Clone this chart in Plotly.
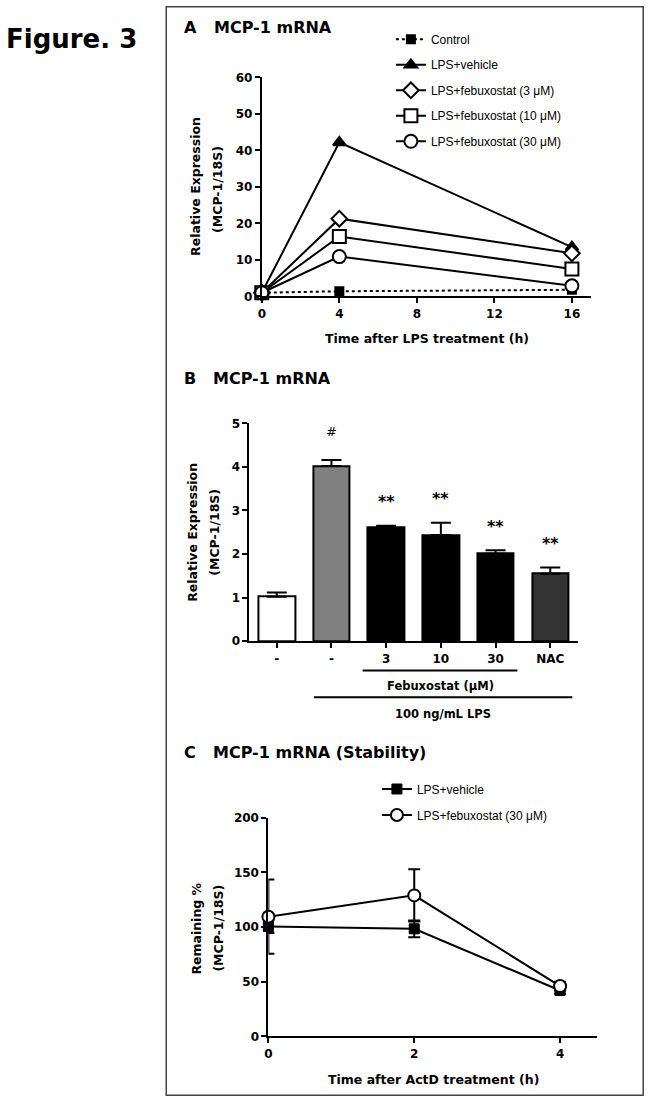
import plotly.graph_objects as go

W, H = 651, 1102

# ---------------- Data ----------------
# Panel A: MCP-1 mRNA time course
time_a = [0, 4, 16]
a_control = [1.0, 1.4, 1.8]
a_vehicle = [1.0, 42.2, 13.5]
a_feb3 = [1.0, 21.3, 11.8]
a_feb10 = [1.0, 16.4, 7.5]
a_feb30 = [1.0, 10.9, 2.9]
a_ticks = [0, 4, 8, 12, 16]

# Panel B: bars
b_labels = ["-", "-", "3", "10", "30", "NAC"]
b_values = [1.02, 4.02, 2.62, 2.44, 2.01, 1.55]
b_errors = [0.10, 0.14, 0.03, 0.28, 0.08, 0.14]
b_colors = ["#ffffff", "#808080", "#000000", "#000000", "#000000", "#333333"]
b_marks = ["", "#", "**", "**", "**", "**"]

# Panel C: stability
time_c = [0, 2, 4]
c_vehicle = [100.5, 98.4, 42.0]
c_vehicle_err = [6.0, 7.6, 3.0]
c_feb30 = [109.5, 129.0, 46.0]
c_feb30_err = [34.0, 24.0, 4.0]

# page-to-screenshot correction (observed from a calibration run)
OX, SX = 2.5, 0.9954
OY, SY = 6.2, 0.9877


def px_x(p):
    return ((p - OX) / SX) / W


def px_y(p):
    return 1 - ((p - OY) / SY) / H


FONT = "DejaVu Sans"
fig = go.Figure()

# ---------------- Panel A ----------------
series_a = [
    ("Control", a_control, "square", 8, "black", "dot"),
    ("LPS+vehicle", a_vehicle, "triangle-up", 11, "black", "solid"),
    ("LPS+febuxostat (3 μM)", a_feb3, "diamond", 12, "white", "solid"),
    ("LPS+febuxostat (10 μM)", a_feb10, "square", 13, "white", "solid"),
    ("LPS+febuxostat (30 μM)", a_feb30, "circle", 13, "white", "solid"),
]
for i, (name, ys, sym, sz, fill, dash) in enumerate(series_a):
    fig.add_trace(go.Scatter(
        x=time_a, y=ys, name=name, mode="lines+markers",
        line=dict(color="black", width=2, dash=dash),
        marker=dict(symbol=sym, size=sz, color=fill, line=dict(color="black", width=2)),
        xaxis="x", yaxis="y", legend="legend", legendgroup=f"a{i}",
        cliponaxis=False,
    ))

# ---------------- Panel B ----------------
b_x = list(range(len(b_values)))
fig.add_trace(go.Bar(
    x=b_x, y=b_values, width=0.67,
    marker=dict(color=b_colors, line=dict(color="black", width=2)),
    error_y=dict(type="data", symmetric=False, array=b_errors,
                 arrayminus=[0] * len(b_errors), color="black", thickness=2, width=10),
    xaxis="x2", yaxis="y2", showlegend=False,
))
for xi, v, e, m in zip(b_x, b_values, b_errors, b_marks):
    if m:
        fig.add_annotation(x=xi, y=v + e, xref="x2", yref="y2", text=f"<b>{m}</b>" if m == "**" else m,
                           showarrow=False, yshift=24 if m == "**" else 28,
                           font=dict(family=FONT, size=16 if m == "**" else 13, color="black"))

# ---------------- Panel C ----------------
fig.add_trace(go.Scatter(
    x=time_c, y=c_vehicle, name="LPS+vehicle", mode="lines+markers",
    line=dict(color="black", width=2),
    marker=dict(symbol="square", size=10, color="black", line=dict(color="black", width=1)),
    error_y=dict(type="data", array=c_vehicle_err, color="black", thickness=2, width=6),
    xaxis="x3", yaxis="y3", legend="legend2", legendgroup="c0", cliponaxis=False,
))
fig.add_trace(go.Scatter(
    x=time_c, y=c_feb30, name="LPS+febuxostat (30 μM)", mode="lines+markers",
    line=dict(color="black", width=2),
    marker=dict(symbol="circle", size=12, color="white", line=dict(color="black", width=2)),
    error_y=dict(type="data", array=c_feb30_err, color="black", thickness=2, width=6),
    xaxis="x3", yaxis="y3", legend="legend2", legendgroup="c1", cliponaxis=False,
))

axis_common = dict(
    showline=True, linecolor="black", linewidth=2, ticks="outside",
    ticklen=5, tickwidth=2, tickcolor="black", showgrid=False, zeroline=False,
    tickfont=dict(family=FONT, size=12, color="black", weight="bold"),
    fixedrange=True,
)

fig.update_layout(
    width=W, height=H, margin=dict(l=0, r=0, t=0, b=0),
    paper_bgcolor="white", plot_bgcolor="white",
    font=dict(family=FONT, color="black"),
    bargap=0,
    xaxis=dict(axis_common, domain=[px_x(260.7), px_x(590.7)], range=[0, 17],
               tickvals=a_ticks, anchor="y"),
    yaxis=dict(axis_common, domain=[px_y(295.7), px_y(76.7)], range=[0, 60],
               tickvals=[0, 10, 20, 30, 40, 50, 60], anchor="x"),
    xaxis2=dict(axis_common, domain=[px_x(248.3), px_x(577)], range=[-0.5, 5.5],
                tickvals=b_x, ticktext=b_labels, anchor="y2"),
    yaxis2=dict(axis_common, domain=[px_y(640.7), px_y(422.7)], range=[0, 5],
                tickvals=[0, 1, 2, 3, 4, 5], anchor="x2"),
    xaxis3=dict(axis_common, domain=[px_x(267.3), px_x(596.7)], range=[0, 4.51],
                tickvals=[0, 2, 4], anchor="y3"),
    yaxis3=dict(axis_common, domain=[px_y(1036), px_y(817.3)], range=[0, 200],
                tickvals=[0, 50, 100, 150, 200], anchor="x3"),
    legend=dict(x=px_x(390), y=px_y(24), xanchor="left", yanchor="top",
                bgcolor="rgba(0,0,0,0)", tracegroupgap=6.5, itemwidth=30,
                font=dict(family="Liberation Sans", size=12, color="black")),
    legend2=dict(x=px_x(376), y=px_y(774), xanchor="left", yanchor="top",
                 bgcolor="rgba(0,0,0,0)", tracegroupgap=7, itemwidth=30,
                 font=dict(family="Liberation Sans", size=12, color="black")),
    showlegend=True,
)

# Border box
fig.add_shape(type="rect", xref="paper", yref="paper",
              x0=px_x(165), x1=px_x(642.7), y0=px_y(1095), y1=px_y(6),
              line=dict(color="#444", width=1.5))

# Bracket lines in panel B
fig.add_shape(type="line", xref="paper", yref="paper",
              x0=px_x(361.7), x1=px_x(516.7), y0=px_y(670), y1=px_y(670),
              line=dict(color="black", width=2))
fig.add_shape(type="line", xref="paper", yref="paper",
              x0=px_x(313), x1=px_x(571.7), y0=px_y(696.7), y1=px_y(696.7),
              line=dict(color="black", width=2))


def text(x, y, s, size, bold=True, angle=0, xanchor="center", family=FONT):
    fig.add_annotation(x=px_x(x), y=px_y(y), xref="paper", yref="paper",
                       text=f"<b>{s}</b>" if bold else s, showarrow=False,
                       xanchor=xanchor, yanchor="middle", textangle=angle,
                       font=dict(family=family, size=size, color="black"))


text(3, 38, "Figure. 3", 26, xanchor="left")
text(181, 27, "A", 16, xanchor="left")
text(211, 27, "MCP-1 mRNA", 16, xanchor="left")
text(181, 378, "B", 16, xanchor="left")
text(210, 378, "MCP-1 mRNA", 16, xanchor="left")
text(181, 752, "C", 16, xanchor="left")
text(210, 752, "MCP-1 mRNA (Stability)", 16, xanchor="left")

# Axis titles
text(195, 186, "Relative Expression", 12.5, angle=-90)
text(217, 189, "(MCP-1/18S)", 12.5, angle=-90)
text(426, 338, "Time after LPS treatment (h)", 12.5)

text(191, 532, "Relative Expression", 12.5, angle=-90)
text(213, 532, "(MCP-1/18S)", 12.5, angle=-90)
text(440, 685, "Febuxostat (μM)", 11.5)
text(442, 713, "100 ng/mL LPS", 11.5)

text(195, 928, "Remaining %", 12.5, angle=-90)
text(217, 928, "(MCP-1/18S)", 12.5, angle=-90)
text(433, 1079, "Time after ActD treatment (h)", 12.5)

fig.write_html(
    "out.html",
    config={"displayModeBar": False},
    post_script="document.body.style.margin='0';document.body.style.padding='0';"
                "document.documentElement.style.overflow='hidden';",
)
